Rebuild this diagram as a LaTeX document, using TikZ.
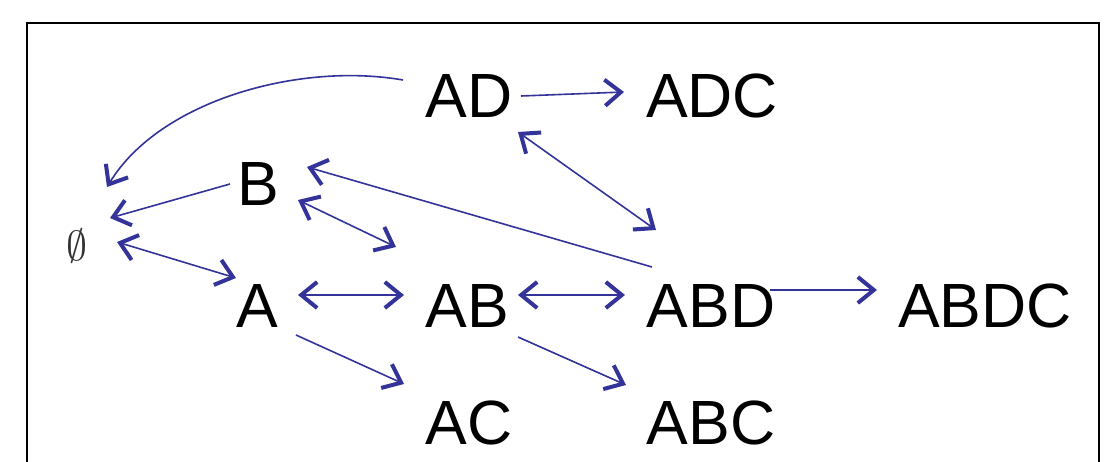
\documentclass[tikz,border=0pt]{standalone}
\usepackage{fontspec}
\setmainfont{Liberation Sans}
\usetikzlibrary{arrows.meta}
\definecolor{arrblue}{RGB}{51,51,153}
\tikzset{
  lbl/.style={inner sep=0pt, text height=44pt, text depth=0pt, font=\fontsize{62.5}{62.5}\selectfont},
  conn/.style={draw=arrblue, line width=1.6pt, -{Straight Barb[length=16pt,width=26pt,line width=4pt]}},
  bicon/.style={draw=arrblue, line width=1.6pt, {Straight Barb[length=16pt,width=26pt,line width=4pt]}-{Straight Barb[length=16pt,width=26pt,line width=4pt]}}
}
\begin{document}
\begin{tikzpicture}[x=1pt,y=-1pt]
\useasboundingbox (0,0) rectangle (1108,461);
\clip (0,0) rectangle (1108,461);
\draw[line width=2.5pt] (27,23) rectangle (1099,480);
\node[inner sep=0pt, text=black!80, scale=4.2] (E) at (77,246) {$\emptyset$};
\node[lbl] (B) at (258,183) {B};
\node[lbl] (A) at (257,305) {A};
\node[lbl] (AD) at (469,95) {AD};
\node[lbl] (ADC) at (712,95) {ADC};
\node[lbl] (AB) at (467,305) {AB};
\node[lbl] (ABD) at (711,305) {ABD};
\node[lbl] (ABDC) at (985,305) {ABDC};
\node[lbl] (AC) at (469,422) {AC};
\node[lbl] (ABC) at (711,422) {ABC};
% connectors
\draw[conn] ([shift={(-66,-15)}]AD.center) .. controls +(-103,-18) and +(53,-87) .. ([shift={(30,-59)}]E.center);
\draw[conn] ([shift={(-28,1)}]B.center) -- ([shift={(33,-28)}]E.center);
\draw[bicon] ([shift={(40,-4)}]E.center) -- ([shift={(-21,-27)}]A.center);
\draw[bicon] ([shift={(40,17)}]B.center) -- ([shift={(-71,-58)}]AB.center);
\draw[conn] ([shift={(-59,-38)}]ABD.center) -- ([shift={(49,-16)}]B.center);
\draw[bicon] ([shift={(49,37)}]AD.center) -- ([shift={(-55,-75)}]ABD.center);
\draw[conn] ([shift={(52,1)}]AD.center) -- ([shift={(-88,-3)}]ADC.center);
\draw[bicon] ([shift={(41,-10)}]A.center) -- ([shift={(-63,-10)}]AB.center);
\draw[bicon] ([shift={(51,-10)}]AB.center) -- ([shift={(-86,-10)}]ABD.center);
\draw[conn] ([shift={(59,-15)}]ABD.center) -- ([shift={(-108,-15)}]ABDC.center);
\draw[conn] ([shift={(39,30)}]A.center) -- ([shift={(-65,-38)}]AC.center);
\draw[conn] ([shift={(51,32)}]AB.center) -- ([shift={(-85,-37)}]ABC.center);
\end{tikzpicture}
\end{document}
